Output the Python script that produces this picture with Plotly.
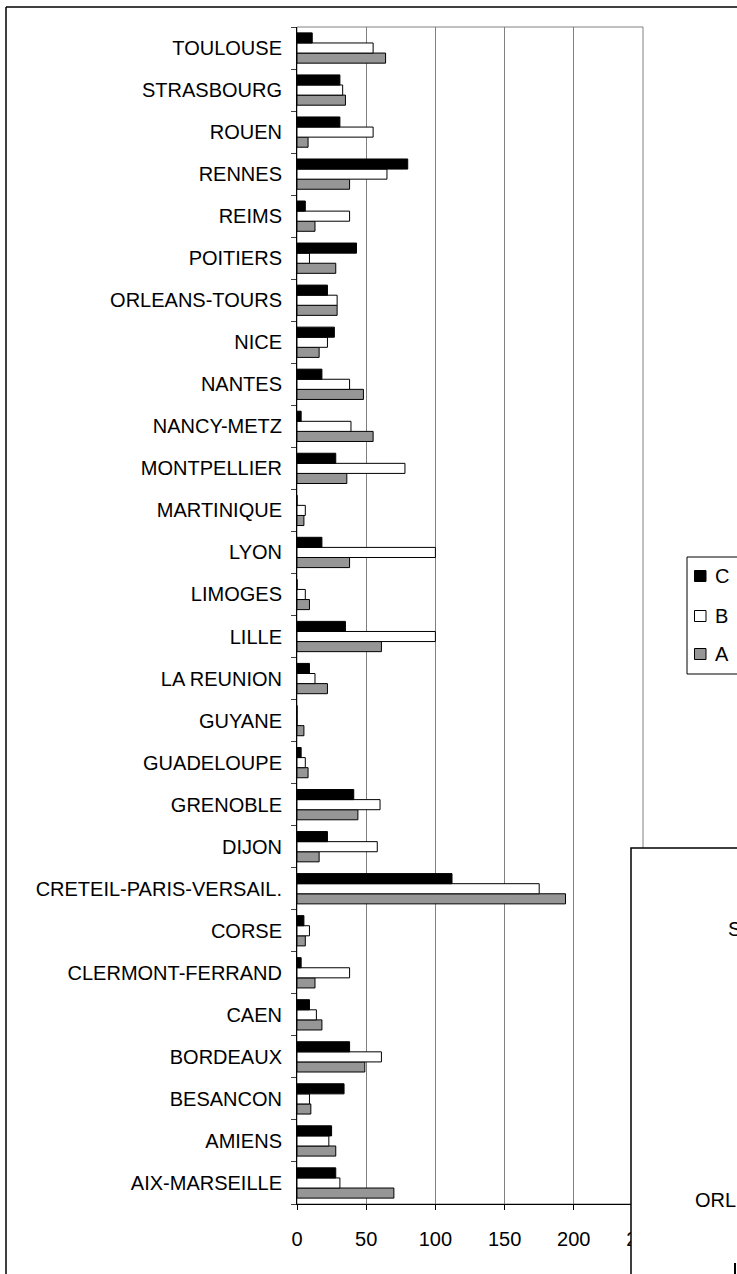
import plotly.graph_objects as go

categories = ["AIX-MARSEILLE", "AMIENS", "BESANCON", "BORDEAUX", "CAEN",
              "CLERMONT-FERRAND", "CORSE", "CRETEIL-PARIS-VERSAIL.", "DIJON",
              "GRENOBLE", "GUADELOUPE", "GUYANE", "LA REUNION", "LILLE",
              "LIMOGES", "LYON", "MARTINIQUE", "MONTPELLIER", "NANCY-METZ",
              "NANTES", "NICE", "ORLEANS-TOURS", "POITIERS", "REIMS", "RENNES",
              "ROUEN", "STRASBOURG", "TOULOUSE"]

series_C = [28, 25, 34, 38, 9, 3, 5, 112, 22, 41, 3, 0, 9, 35, 0, 18, 0, 28,
            3, 18, 27, 22, 43, 6, 80, 31, 31, 11]
series_B = [31, 23, 9, 61, 14, 38, 9, 175, 58, 60, 6, 0, 13, 100, 6, 100, 6,
            78, 39, 38, 22, 29, 9, 38, 65, 55, 33, 55]
series_A = [70, 28, 10, 49, 18, 13, 6, 194, 16, 44, 8, 5, 22, 61, 9, 38, 5, 36,
            55, 48, 16, 29, 28, 13, 38, 8, 35, 64]

x_ticks = [0, 50, 100, 150, 200, 250]
legend_names = ["C", "B", "A"]
overlap_labels = ["STRASBOURG", "ORLEANS-TOURS"]

W, H = 737, 1274
L, R, T, B = 297, 643, 27, 1204
FONT = "Liberation Sans, Arial, sans-serif"


def px(x):
    return (x - L) / (R - L)


def py(y):
    return (B - y) / (B - T)


fig = go.Figure()
for name, vals, col in [("A", series_A, "#969696"),
                        ("B", series_B, "#ffffff"),
                        ("C", series_C, "#000000")]:
    fig.add_trace(go.Bar(
        y=categories, x=vals, name=name, orientation="h",
        marker=dict(color=col, line=dict(color="black", width=1)),
        showlegend=False))

shapes = []
# outer frame (top and left visible)
shapes.append(dict(type="line", xref="paper", yref="paper",
                   x0=px(6), x1=px(800), y0=py(7), y1=py(7),
                   line=dict(color="black", width=1.5), layer="below"))
shapes.append(dict(type="line", xref="paper", yref="paper",
                   x0=px(6), x1=px(6), y0=py(7), y1=py(1300),
                   line=dict(color="black", width=1.5), layer="below"))
# plot area border (gray)
shapes.append(dict(type="rect", xref="paper", yref="paper",
                   x0=0, x1=1, y0=0, y1=1,
                   line=dict(color="#808080", width=1), layer="below"))
# overlapping second chart frame
shapes.append(dict(type="rect", xref="paper", yref="paper",
                   x0=px(631), x1=px(800), y0=py(848), y1=py(1300),
                   fillcolor="white", line=dict(color="black", width=1.5),
                   layer="above"))
shapes.append(dict(type="line", xref="paper", yref="paper",
                   x0=px(735), x1=px(735), y0=py(1263), y1=py(1280),
                   line=dict(color="black", width=2), layer="above"))
# legend box
shapes.append(dict(type="rect", xref="paper", yref="paper",
                   x0=px(687), x1=px(800), y0=py(557), y1=py(674),
                   fillcolor="white", line=dict(color="black", width=1),
                   layer="above"))

leg_y = [576, 616, 654]
leg_col = ["#000000", "#ffffff", "#969696"]
annotations = []
for nm, yy, col in zip(legend_names, leg_y, leg_col):
    shapes.append(dict(type="rect", xref="paper", yref="paper",
                       x0=px(694.5), x1=px(706), y0=py(yy - 5.5), y1=py(yy + 5.5),
                       fillcolor=col, line=dict(color="black", width=1),
                       layer="above"))
    annotations.append(dict(xref="paper", yref="paper", x=px(713), y=py(yy),
                            text=nm, showarrow=False, xanchor="left",
                            yanchor="middle",
                            font=dict(family=FONT, size=20, color="black")))

annotations.append(dict(xref="paper", yref="paper", x=px(726), y=py(929),
                        text=overlap_labels[0], showarrow=False,
                        xanchor="left", yanchor="middle",
                        font=dict(family=FONT, size=20, color="black")))
annotations.append(dict(xref="paper", yref="paper", x=px(693), y=py(1200),
                        text=overlap_labels[1], showarrow=False,
                        xanchor="left", yanchor="middle",
                        font=dict(family=FONT, size=20, color="black")))

fig.update_layout(
    width=W, height=H,
    margin=dict(l=L, r=W - R, t=T, b=H - B, pad=0),
    barmode="group", bargap=0.28, bargroupgap=0,
    plot_bgcolor="white", paper_bgcolor="white",
    font=dict(family=FONT, size=20, color="black"),
    shapes=shapes, annotations=annotations,
    showlegend=False,
)
fig.update_xaxes(range=[0, 250], tickvals=x_ticks, showgrid=True,
                 gridcolor="#808080", gridwidth=1, zeroline=False,
                 showline=True, linecolor="black", linewidth=1,
                 ticks="outside", ticklen=5, tickcolor="black",
                 tickfont=dict(family=FONT, size=20, color="black"),
                 ticklabelstandoff=12)
fig.update_yaxes(type="category", categoryorder="array",
                 categoryarray=categories, range=[-0.5, len(categories) - 0.5],
                 tickson="boundaries", ticks="outside", ticklen=5,
                 tickcolor="#404040", showgrid=False, zeroline=False,
                 showline=True, linecolor="black", linewidth=1,
                 tickfont=dict(family=FONT, size=20, color="black"),
                 ticklabelstandoff=10)

fig.write_html("out.html", config={"displayModeBar": False},
               post_script="document.body.style.margin='0';")
